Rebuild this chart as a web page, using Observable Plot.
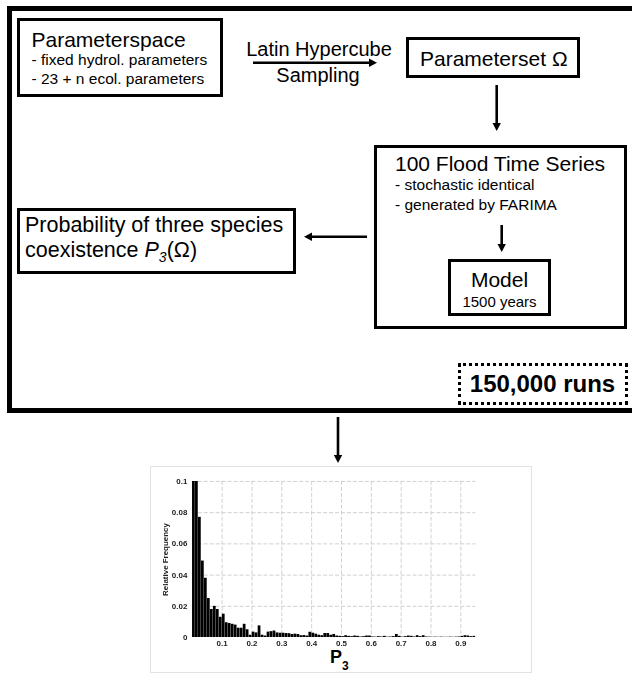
<!DOCTYPE html>
<html>
<head>
<meta charset="utf-8">
<script src="https://cdn.jsdelivr.net/npm/d3@7"></script>
<script src="https://cdn.jsdelivr.net/npm/@observablehq/plot@0.6"></script>
<style>
  html, body { margin: 0; padding: 0; background: #fff; }
  #root { position: relative; width: 632px; height: 673px; overflow: hidden; background: #fff;
          font-family: "Liberation Sans", Arial, sans-serif; color: #000; }
  .box { position: absolute; box-sizing: border-box; border: 3px solid #000; background: #fff; }
  .t { position: absolute; white-space: nowrap; }
</style>
</head>
<body>
<div id="root"></div>
<script>
// ---------- data: histogram of P3 (relative frequency per 0.01 bin, first bins clipped at 0.1) ----------
const binWidth = 0.01;
const relFreq = [
  0.1, 0.1, 0.077, 0.049, 0.038, 0.025, 0.018, 0.020, 0.018, 0.013,
  0.015, 0.0095, 0.009, 0.0085, 0.008, 0.006, 0.006, 0.0085, 0.005, 0.0015,
  0.0035, 0.003, 0.0075, 0.0015, 0.001, 0.0035, 0.0038, 0.0042, 0.003, 0.0028,
  0.0028, 0.0026, 0.0025, 0.002, 0.0022, 0.002, 0.0012, 0.0013, 0.001, 0.0034,
  0.0028, 0.0022, 0.0015, 0.0012, 0.0026, 0.0026, 0.0015, 0.002, 0.001, 0.0008,
  0.0006, 0.0012, 0.0008, 0.0006, 0.001, 0.0008, 0.0004, 0.0006, 0.001, 0.001,
  0.0004, 0.0003, 0.0006, 0.0004, 0.0008, 0.0003, 0.0004, 0.0006, 0.002, 0.0008,
  0.0003, 0.0006, 0.001, 0.0008, 0.0004, 0.0012, 0.0006, 0.0012, 0.0004, 0.0003,
  0.0002, 0.0003, 0.0002, 0.0003, 0.0002, 0.0002, 0.0003, 0.0002, 0.0003, 0.0004,
  0.0008, 0.0012, 0.001, 0.0006, 0.0008
];
const xDomain = [0, 0.95];
const xTicks = [0.1, 0.2, 0.3, 0.4, 0.5, 0.6, 0.7, 0.8, 0.9];
const xTickLabels = ["0.1", "0.2", "0.3", "0.4", "0.5", "0.6", "0.7", "0.8", "0.9"];
const yDomain = [0, 0.1];
const yTicks = [0, 0.02, 0.04, 0.06, 0.08, 0.1];
const yTickLabels = ["0", "0.02", "0.04", "0.06", "0.08", "0.1"];
const yLabel = "Relative Frequency";

// ---------- diagram texts ----------
const paramSpaceLines = ["Parameterspace", "- fixed hydrol. parameters", "- 23 + n ecol. parameters"];
const samplingLines = ["Latin Hypercube", "Sampling"];
const paramSetText = "Parameterset \u03A9";
const floodLines = ["100 Flood Time Series", "- stochastic identical", "- generated by FARIMA"];
const modelLines = ["Model", "1500 years"];
const probLine1 = "Probability of three species";
const runsText = "150,000 runs";

const root = document.getElementById("root");
const FONT = "'Liberation Sans', Arial, sans-serif";

function box(l, t, r, b, extra) {
  const d = document.createElement("div");
  d.className = "box";
  Object.assign(d.style, { left: l + "px", top: t + "px", width: (r - l) + "px", height: (b - t) + "px" }, extra || {});
  root.appendChild(d);
  return d;
}
function text(x, baseline, str, size, opts) {
  opts = opts || {};
  const d = document.createElement("div");
  d.className = "t";
  d.style.font = `${opts.weight || "normal"} ${size}px ${FONT}`;
  d.style.lineHeight = size + "px";
  d.style.top = (baseline - 0.8465 * size) + "px";
  d.style.left = x + "px";
  if (opts.anchor === "middle") d.style.transform = "translateX(-50%)";
  if (opts.html) d.innerHTML = str; else d.textContent = str;
  root.appendChild(d);
  return d;
}

// outer frame
box(7, 6, 660, 413, { borderWidth: "5px" });

// Parameterspace
box(16.5, 18, 223, 97);
text(31.5, 46.7, paramSpaceLines[0], 21);
text(31.5, 65.5, paramSpaceLines[1], 15.5);
text(31.5, 84.5, paramSpaceLines[2], 15.5);

// Latin Hypercube Sampling
text(319, 56, samplingLines[0], 20, { anchor: "middle" });
text(318, 81.5, samplingLines[1], 20, { anchor: "middle" });

// Parameterset
box(405.5, 37, 580, 78);
text(420, 65.5, paramSetText, 21);

// 100 Flood Time Series
box(374, 145, 627, 329);
text(395, 170.7, floodLines[0], 21);
text(395, 190.5, floodLines[1], 15.5);
text(395, 210.5, floodLines[2], 15.5);

// Model
box(448, 259, 551, 316);
text(499.5, 287, modelLines[0], 21, { anchor: "middle" });
text(499.5, 306.7, modelLines[1], 15, { anchor: "middle" });

// Probability
box(16.5, 208, 295.5, 274);
text(25, 233.5, probLine1, 21.5);
text(25, 258.5, 'coexistence <i>P</i><span style="font-size:14px;font-style:italic;position:relative;top:5px">3</span>(\u03A9)', 21.5, { html: true });

// 150,000 runs dotted box
box(458, 362.5, 627.5, 404.5, { border: "3px dotted #000" });
text(542.5, 392, runsText, 24, { anchor: "middle", weight: "bold" });

// arrows
const NS = "http://www.w3.org/2000/svg";
const svg = document.createElementNS(NS, "svg");
svg.setAttribute("width", 632); svg.setAttribute("height", 673);
svg.style.position = "absolute"; svg.style.left = "0"; svg.style.top = "0"; svg.style.pointerEvents = "none";
root.appendChild(svg);
function arrow(x1, y1, x2, y2) {
  const len = Math.hypot(x2 - x1, y2 - y1), ux = (x2 - x1) / len, uy = (y2 - y1) / len;
  const hl = 8, hw = 4.2;
  const bx = x2 - ux * hl, by = y2 - uy * hl;
  const line = document.createElementNS(NS, "line");
  line.setAttribute("x1", x1); line.setAttribute("y1", y1);
  line.setAttribute("x2", bx + ux * 0.5); line.setAttribute("y2", by + uy * 0.5);
  line.setAttribute("stroke", "#000"); line.setAttribute("stroke-width", 2.6);
  svg.appendChild(line);
  const p = document.createElementNS(NS, "path");
  p.setAttribute("d", `M${x2},${y2} L${bx - uy * hw},${by + ux * hw} L${bx + uy * hw},${by - ux * hw} Z`);
  p.setAttribute("fill", "#000");
  svg.appendChild(p);
}
arrow(253, 62.7, 377, 62.7);
arrow(496.7, 85, 496.7, 131);
arrow(501.7, 225, 501.7, 252);
arrow(367, 236.7, 304, 236.7);
arrow(338, 417, 338, 463);

// ---------- histogram ----------
const bins = relFreq.map((v, i) => ({ x1: i * binWidth, x2: (i + 1) * binWidth, y: v }));
const hist = Plot.plot({
  width: 382,
  height: 207,
  marginLeft: 42,
  marginRight: 55,
  marginTop: 15,
  marginBottom: 35,
  style: { fontFamily: FONT, fontSize: "8px", fontWeight: "bold", color: "#222", background: "#fff", overflow: "visible" },
  x: { domain: xDomain },
  y: { domain: yDomain },
  marks: [
    Plot.gridX(xTicks, { stroke: "#d0d0d0", strokeOpacity: 1, strokeDasharray: "4,2" }),
    Plot.gridY(yTicks.slice(1), { stroke: "#d0d0d0", strokeOpacity: 1, strokeDasharray: "4,2" }),
    Plot.rectY(bins, { x1: "x1", x2: "x2", y: "y", fill: "#000", insetLeft: 0.25, clip: true }),
    Plot.axisX({ ticks: xTicks, tickFormat: (d, i) => xTickLabels[i], tickSize: 0, tickPadding: 3, label: null }),
    Plot.axisY({ ticks: yTicks, tickFormat: (d, i) => yTickLabels[i], tickSize: 0, tickPadding: 5,
                 label: yLabel, labelAnchor: "center", labelOffset: 30, labelArrow: "none" })
  ]
});
const wrap = document.createElement("div");
Object.assign(wrap.style, { position: "absolute", left: "150px", top: "466px", width: "382px", height: "207px",
  boxSizing: "border-box", border: "1px solid #e2e2e2", overflow: "hidden" });
hist.style.position = "absolute"; hist.style.left = "-1px"; hist.style.top = "-1px";
hist.style.filter = "blur(0.3px)";
wrap.appendChild(hist);
root.appendChild(wrap);

// x-axis label P3
text(330, 663, 'P<span style="font-size:12px;position:relative;top:7px">3</span>', 18, { weight: "bold", html: true });
</script>
</body>
</html>
